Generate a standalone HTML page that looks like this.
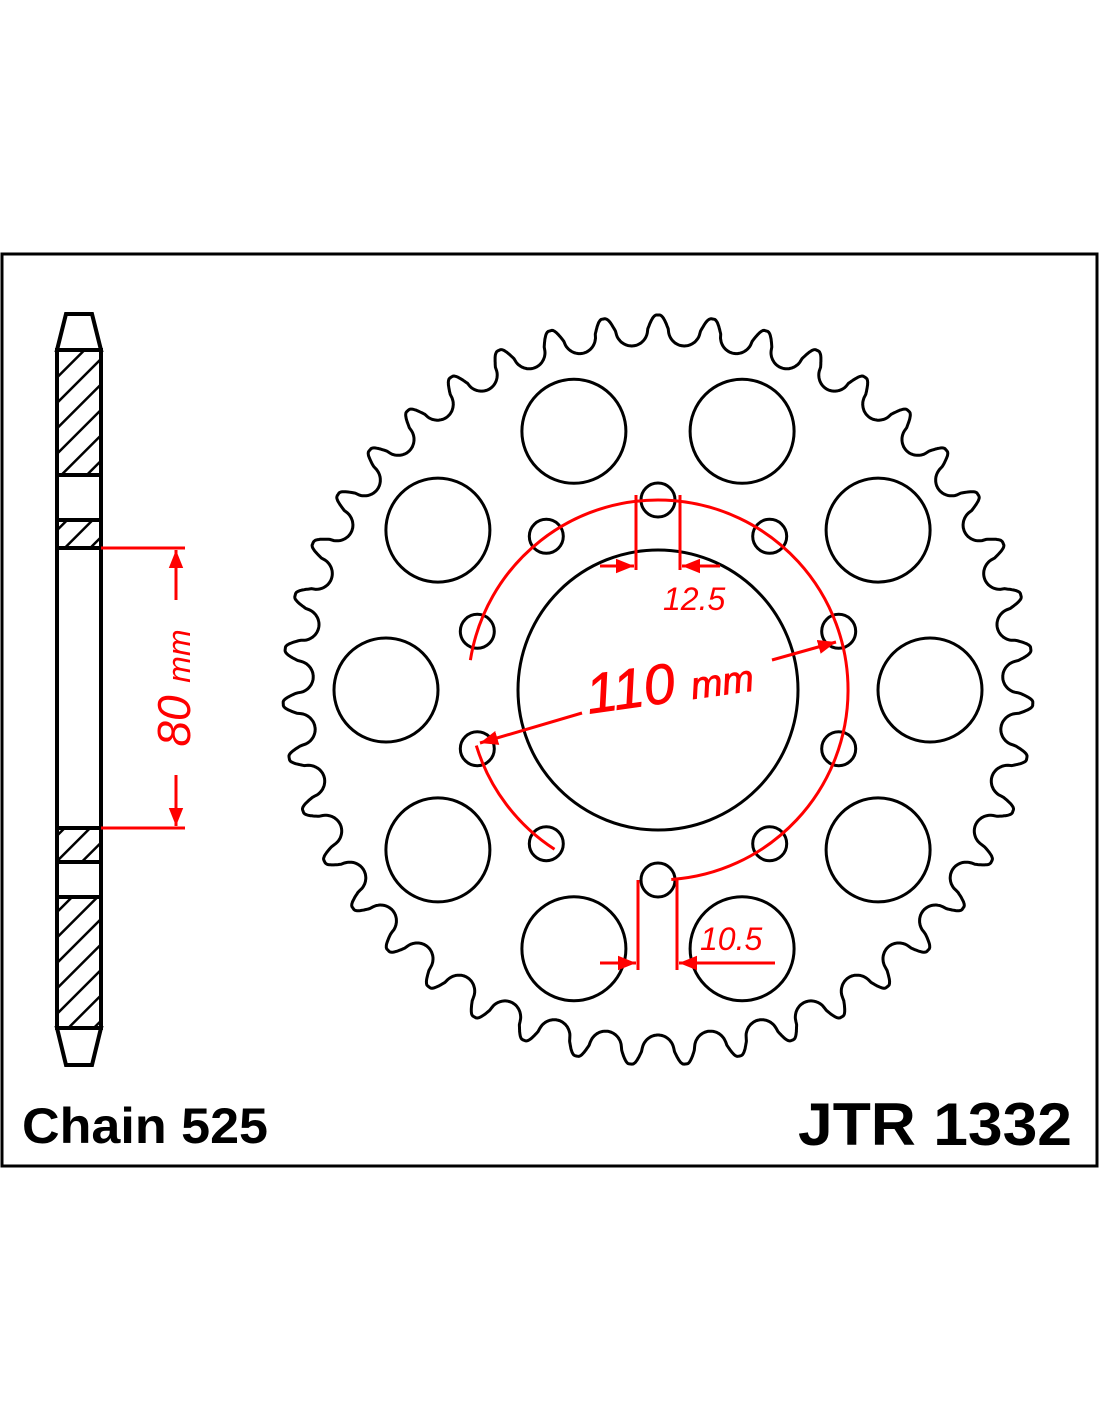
<!DOCTYPE html>
<html><head><meta charset="utf-8"><style>
html,body{margin:0;padding:0;background:#fff}
svg{display:block}
</style></head><body>
<svg id="s" width="1100" height="1422" viewBox="0 0 1100 1422" xmlns="http://www.w3.org/2000/svg">
<defs>
<pattern id="h" width="18" height="18" patternUnits="userSpaceOnUse" patternTransform="rotate(45)">
<rect width="18" height="18" fill="#fff"/><line x1="0" y1="0" x2="0" y2="18" stroke="#000" stroke-width="5"/>
</pattern>
<marker id="a" viewBox="0 0 10 10" refX="10" refY="5" markerWidth="6" markerHeight="6" orient="auto-start-reverse"><path d="M0,1 L10,5 L0,9 z" fill="#f00"/></marker>
</defs>
<rect x="2" y="254" width="1095" height="912" fill="#fff" stroke="#000" stroke-width="3"/>
<path id="teeth" fill="none" stroke="#000" stroke-width="3"/>
<g id="holes" fill="none" stroke="#000" stroke-width="3"></g>
<circle cx="658" cy="690" r="140" fill="none" stroke="#000" stroke-width="3"/>
<!-- chain -->
<g stroke="#000" stroke-width="4" fill="none">
<path d="M57,350 L66,314 L92,314 L101,350 Z" fill="#fff"/>
<rect x="57" y="350" width="44" height="125" fill="url(#h)"/>
<rect x="57" y="475" width="44" height="45" fill="#fff"/>
<rect x="57" y="520" width="44" height="28" fill="url(#h)"/>
<rect x="57" y="548" width="44" height="280" fill="#fff"/>
<rect x="57" y="828" width="44" height="34" fill="url(#h)"/>
<rect x="57" y="862" width="44" height="35" fill="#fff"/>
<rect x="57" y="897" width="44" height="131" fill="url(#h)"/>
<path d="M57,1028 L66,1065 L92,1065 L101,1028 Z" fill="#fff"/>
</g>
<g stroke="#f00" stroke-width="3" fill="none">
<line x1="101" y1="548" x2="185" y2="548"/>
<line x1="101" y1="828" x2="185" y2="828"/>
<line x1="176" y1="600" x2="176" y2="550" marker-end="url(#a)"/>
<line x1="176" y1="775" x2="176" y2="826" marker-end="url(#a)"/>
<path id="arc1"/>
<path id="arc2"/>
<line x1="582" y1="713" x2="480" y2="743" marker-end="url(#a)"/>
<line x1="772" y1="660" x2="836" y2="642" marker-end="url(#a)"/>
<line x1="636" y1="495" x2="636" y2="570"/>
<line x1="680" y1="495" x2="680" y2="570"/>
<line x1="600" y1="566" x2="634" y2="566" marker-end="url(#a)"/>
<line x1="720" y1="566" x2="682" y2="566" marker-end="url(#a)"/>
<line x1="638" y1="880" x2="638" y2="970"/>
<line x1="677" y1="878" x2="677" y2="970"/>
<line x1="600" y1="963" x2="636" y2="963" marker-end="url(#a)"/>
<line x1="775" y1="963" x2="679" y2="963" marker-end="url(#a)"/>
</g>
<g fill="#f00" font-family="Liberation Sans, sans-serif" font-style="italic">
<text transform="translate(190,688) rotate(-90)" font-size="46" text-anchor="middle">80 <tspan font-size="32">mm</tspan></text>
<text transform="translate(672,702) rotate(-8)" font-size="56" text-anchor="middle" stroke="#f00" stroke-width="0.8">110 <tspan font-size="38">mm</tspan></text>
<text x="663" y="610" font-size="32">12.5</text>
<text x="700" y="950" font-size="32">10.5</text>
</g>
<text x="22" y="1143" font-family="Liberation Sans, sans-serif" font-weight="bold" font-size="50" textLength="246" lengthAdjust="spacingAndGlyphs">Chain 525</text>
<text x="798" y="1145" font-family="Liberation Sans, sans-serif" font-weight="bold" font-size="60" textLength="274" lengthAdjust="spacingAndGlyphs">JTR 1332</text>
</svg>
<script>
var cx=658,cy=690,N=43,d="";
var M=4000;
for(var k=0;k<=M;k++){
 var t=k/M*2*Math.PI;
 var u=(t/(2*Math.PI)*N)%1; u=u-0.5;
 var rm=360,p=2*Math.PI*rm/N,s=Math.abs(u*p),r;
 if(s<16) r=345+16-Math.sqrt(256-s*s);
 else r=361+14*Math.sin(Math.min(1,(s-16)/9)*Math.PI/2);
 var x=cx+r*Math.sin(t),y=cy-r*Math.cos(t);
 d+=(k?"L":"M")+x.toFixed(1)+","+y.toFixed(1);
}
document.getElementById("teeth").setAttribute("d",d+"Z");
var g=document.getElementById("holes"),h="";
for(var i=0;i<10;i++){
 var a=(18+36*i)*Math.PI/180;
 h+='<circle cx="'+(cx+272*Math.sin(a)).toFixed(1)+'" cy="'+(cy-272*Math.cos(a)).toFixed(1)+'" r="52"/>';
 var b=(36*i)*Math.PI/180;
 h+='<circle cx="'+(cx+190*Math.sin(b)).toFixed(1)+'" cy="'+(cy-190*Math.cos(b)).toFixed(1)+'" r="17"/>';
}
g.innerHTML=h;
function pt(deg){var a=deg*Math.PI/180;return (cx+190*Math.sin(a)).toFixed(1)+","+(cy-190*Math.cos(a)).toFixed(1);}
function botAng(x,y){return Math.atan2(cx-x,cy-y)*180/Math.PI;}
document.getElementById("arc1").setAttribute("d","M"+pt(-botAng(470,660))+" A190,190 0 1 1 "+pt(176));
document.getElementById("arc2").setAttribute("d","M"+pt(253)+" A190,190 0 0 0 "+pt(213));
</script>
</body></html>
